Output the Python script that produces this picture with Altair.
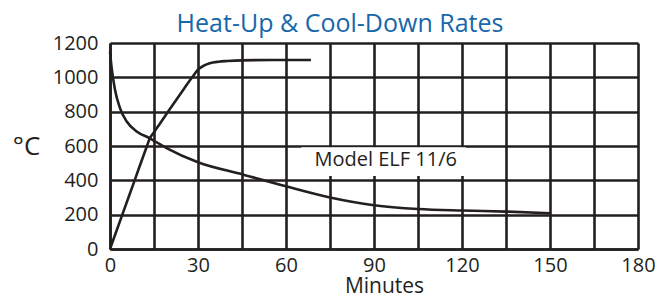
import altair as alt
import pandas as pd

# Heat-up curve (minutes, °C)
heat_min = [0, 4.2, 8.4, 12.6, 13.6, 15, 17, 20, 25, 28, 30, 32, 34, 37, 40, 45, 55, 68.5]
heat_temp = [0, 200, 400, 600, 646, 680, 730, 805, 928, 1000, 1045, 1068, 1082, 1091, 1095, 1099, 1101, 1101]

# Cool-down curve (minutes, °C)
cool_min = [0, 0.5, 1.7, 3.4, 5.7, 9.1, 13.6, 19.3, 30, 45.5, 60, 75, 90, 105, 120, 135, 150]
cool_temp = [1150, 1064, 928, 821, 743, 685, 645, 588, 505, 433, 365, 300, 255, 233, 224, 218, 208]

x_ticks = [0, 15, 30, 45, 60, 75, 90, 105, 120, 135, 150, 165, 180]
y_ticks = [0, 200, 400, 600, 800, 1000, 1200]

label_text = ["Model ELF 11/6"]
label_min = [94]
label_temp = [518]
box_min = [65.2]
box_min2 = [121.2]
box_temp = [425]
box_temp2 = [592]

INK = "#231f20"
FONT = "Open Sans"

heat = pd.DataFrame({"m": heat_min, "t": heat_temp, "s": "heat"})
cool = pd.DataFrame({"m": cool_min, "t": cool_temp, "s": "cool"})
curves = pd.concat([heat, cool], ignore_index=True)
lab = pd.DataFrame({"m": label_min, "t": label_temp, "txt": label_text})
box = pd.DataFrame({"m": box_min, "m2": box_min2, "t": box_temp, "t2": box_temp2})

xscale = alt.Scale(domain=[0, 180], nice=False, zero=False)
yscale = alt.Scale(domain=[0, 1200], nice=False)

xaxis = alt.Axis(values=x_ticks, labelExpr="datum.value % 30 === 0 ? datum.label : ''",
                 format="d", labelFlush=False, labelOverlap=False,
                 title="Minutes", titleX=274, titleY=43, titleBaseline="alphabetic",
                 titleAnchor="start", titleAlign="center", titleFontSize=21,
                 labelPadding=6, labelFontSize=20)
yaxis = alt.Axis(values=y_ticks, format="d", labelFlush=False, labelOverlap=False,
                 title="°C", titleAngle=0, titleX=-84, titleY=103,
                 titleAlign="center", titleBaseline="middle", titleFontSize=26,
                 labelPadding=12, labelFontSize=20)

rect = alt.Chart(box).mark_rect(color="white", opacity=1).encode(
    x=alt.X("m:Q", scale=xscale, axis=xaxis), x2="m2:Q",
    y=alt.Y("t:Q", scale=yscale, axis=yaxis), y2="t2:Q",
)

lines = alt.Chart(curves).mark_line(color=INK, strokeWidth=2.6, interpolate="monotone").encode(
    x=alt.X("m:Q", scale=xscale, axis=xaxis),
    y=alt.Y("t:Q", scale=yscale, axis=yaxis),
    detail="s:N",
)

text = alt.Chart(lab).mark_text(font=FONT, fontSize=20, color=INK, align="center", baseline="middle").encode(
    x=alt.X("m:Q", scale=xscale, axis=xaxis), y=alt.Y("t:Q", scale=yscale, axis=yaxis), text="txt:N"
)

chart = alt.layer(rect, lines, text).properties(
    width=528, height=206,
    padding={"left": 102, "top": 35, "right": 21, "bottom": 44},
    autosize=alt.AutoSizeParams(type="none"),
    title=alt.TitleParams("Heat-Up & Cool-Down Rates", font=FONT, fontSize=25, fontWeight="normal",
                          color="#1767aa", anchor="middle", frame="group", dx=-34, dy=10, offset=6),
).configure_axis(
    grid=True, gridColor=INK, gridWidth=2.6, gridOpacity=1,
    domain=True, domainColor=INK, domainWidth=2.6,
    ticks=False, labelFont=FONT, labelColor=INK, titleFont=FONT, titleColor=INK,
    titleFontWeight="normal",
).configure_view(strokeWidth=0)

chart.save("out.html", embed_options={"renderer": "svg", "actions": False})
